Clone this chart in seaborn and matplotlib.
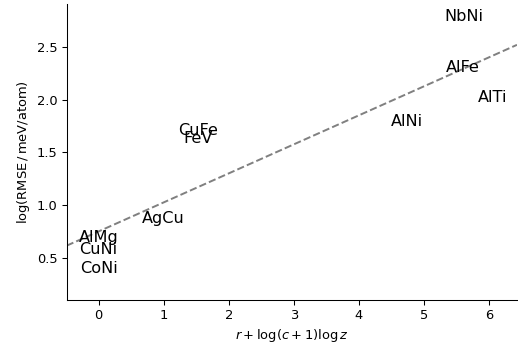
import numpy as np
import pandas as pd
import matplotlib
matplotlib.use("Agg")
import matplotlib.pyplot as plt
import seaborn as sns

# Binary alloys and their position in descriptor / error space
alloys = ["AlMg", "CuNi", "CoNi", "AgCu", "CuFe", "FeV", "AlNi", "AlFe", "AlTi", "NbNi"]
descriptor = [0.0, 0.0, 0.0, 1.0, 1.525, 1.525, 4.745, 5.60, 6.05, 5.61]
log_rmse = [0.696, 0.582, 0.402, 0.877, 1.709, 1.629, 1.796, 2.30, 2.02, 2.786]

# Linear trend
fit_intercept = 0.75
fit_slope = 0.275
x_range = [-0.49, 6.43]
y_range = [0.10, 2.904]

sns.set_style("ticks", {"axes.edgecolor": "black", "text.color": "black",
                        "xtick.color": "black", "ytick.color": "black",
                        "axes.labelcolor": "black"})
plt.rcParams["font.family"] = ["DejaVu Sans"]
plt.rcParams["mathtext.fontset"] = "dejavusans"

DPI = 94
fig = plt.figure(figsize=(518 / DPI, 345 / DPI), dpi=DPI)
ax = fig.add_axes([0.1288, 0.1304, 0.8692, 0.8576])

line_x = np.array(x_range)
trend = pd.DataFrame({"x": line_x, "y": fit_intercept + fit_slope * line_x})
sns.lineplot(data=trend, x="x", y="y", ax=ax, color="grey", linestyle="--", linewidth=1.5)

for name, xv, yv in zip(alloys, descriptor, log_rmse):
    ax.text(xv, yv, name, ha="center", va="center", fontsize=12.4)

ax.set_xlim(*x_range)
ax.set_ylim(*y_range)
ax.set_xticks([0, 1, 2, 3, 4, 5, 6])
ax.set_yticks([0.5, 1.0, 1.5, 2.0, 2.5])
ax.tick_params(labelsize=10)
ax.set_xlabel(r"$r + \log(c+1)\log z$", fontsize=10)
ax.set_ylabel(r"log(RMSE$\,/\,$meV/atom)", fontsize=10)
sns.despine(ax=ax)

fig.savefig("out.png", dpi=DPI)
